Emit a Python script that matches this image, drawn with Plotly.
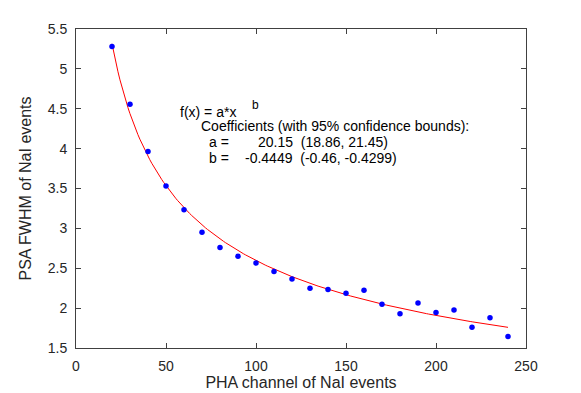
import numpy as np
import plotly.graph_objects as go

# measured points (PHA channel vs PSA FWHM)
channel = [20, 30, 40, 50, 60, 70, 80, 90, 100, 110, 120, 130, 140, 150,
           160, 170, 180, 190, 200, 210, 220, 230, 240]
fwhm = [5.28, 4.555, 3.965, 3.53, 3.235, 2.95, 2.76, 2.65, 2.565, 2.46, 2.365,
        2.25, 2.235, 2.185, 2.225, 2.05, 1.93, 2.065, 1.945, 1.975, 1.76, 1.88, 1.645]

# power-law fit coefficients shown on the chart
coef_a = 20.15
coef_b = -0.4449

x_fit = np.linspace(min(channel), max(channel), 200)
y_fit = coef_a * x_fit ** coef_b

fig = go.Figure()
fig.add_trace(go.Scatter(x=x_fit, y=y_fit, mode="lines",
                         line=dict(color="#ff0000", width=1), showlegend=False))
fig.add_trace(go.Scatter(x=channel, y=fwhm, mode="markers",
                         marker=dict(color="#0000ff", size=5.5), showlegend=False))

txt = dict(family="Liberation Sans, Arial, sans-serif", size=14, color="#000000")


def note(x, y, s, size=14):
    fig.add_annotation(x=x, y=y, xref="x", yref="y", text=s, showarrow=False,
                       xanchor="left", yanchor="middle", borderpad=0,
                       font=dict(txt, size=size))


note(57.2, 4.46, "f(x) = a*x")
note(97.0, 4.55, "b", size=12)
note(69.1, 4.28, "Coefficients (with 95% confidence bounds):")
note(73.3, 4.08, "a =")
note(100.5, 4.08, "20.15  (18.86, 21.45)")
note(73.3, 3.88, "b =")
note(93.1, 3.88, "-0.4449  (-0.46, -0.4299)")

axis_common = dict(showline=True, linecolor="#404040", linewidth=1, mirror="ticks",
                   ticks="inside", ticklen=5, tickcolor="#404040", showgrid=False,
                   zeroline=False, automargin=False,
                   tickfont=dict(txt, size=14, color="#262626"))

fig.update_xaxes(range=[0, 250], dtick=50, tick0=0, ticklabelstandoff=5,
                 title=dict(text="PHA channel of NaI events", standoff=2,
                            font=dict(txt, size=16, color="#262626")),
                 **axis_common)
fig.update_yaxes(range=[1.5, 5.5], dtick=0.5, tick0=1.5, ticklabelstandoff=5,
                 title=dict(text="PSA FWHM of NaI events", standoff=12,
                            font=dict(txt, size=16, color="#262626")),
                 **axis_common)

# page body adds an 8px offset, so the figure is sized to fit inside it
fig.update_layout(width=573, height=385,
                  margin=dict(l=68, r=55, t=21, b=45),
                  plot_bgcolor="white", paper_bgcolor="white",
                  font=txt)

fig.write_html("out.html")
